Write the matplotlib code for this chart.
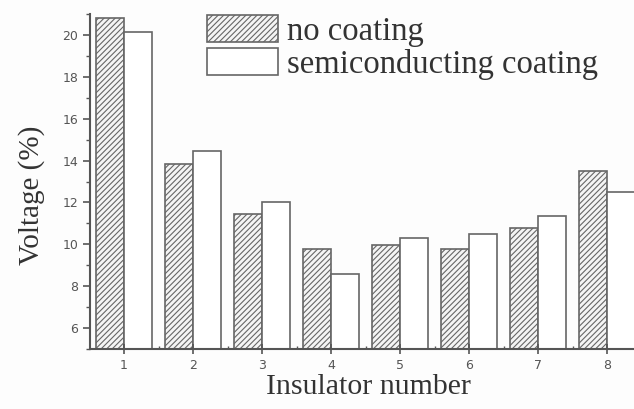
import matplotlib
matplotlib.use('Agg')
import matplotlib.pyplot as plt
import numpy as np

# data
insulators = [1, 2, 3, 4, 5, 6, 7, 8]
no_coating = [20.8, 13.85, 11.45, 9.8, 9.95, 9.8, 10.8, 13.5]
semi_coating = [20.15, 14.45, 12.0, 8.6, 10.3, 10.5, 11.35, 12.5]
y_ticks = [6, 8, 10, 12, 14, 16, 18, 20]

edge = '#666666'
plt.rcParams['hatch.color'] = '#999999'
plt.rcParams['hatch.linewidth'] = 0.8

fig = plt.figure(figsize=(6.34, 4.09), dpi=100)
fig.patch.set_facecolor('#fdfdfd')
ax = fig.add_axes([0.142, 0.1467, 0.858, 0.819])
ax.set_facecolor('#fdfdfd')

x = np.array(insulators)
w = 0.4
ax.bar(x - w / 2, no_coating, w, facecolor='#f4f4f4', edgecolor=edge,
       hatch='//////', linewidth=1.2, label='no coating')
ax.bar(x + w / 2, semi_coating, w, facecolor='white', edgecolor=edge,
       linewidth=1.2, label='semiconducting coating')

ax.set_xlim(0.507, 8.39)
ax.set_ylim(5, 21)
ax.set_xticks(insulators)
ax.set_xticks(x[:-1] + 0.5, minor=True)
ax.set_yticks(y_ticks)
ax.set_yticks(np.arange(5, 22, 2), minor=True)

for s in ['top', 'right']:
    ax.spines[s].set_visible(False)
for s in ['left', 'bottom']:
    ax.spines[s].set_color('#555555')
    ax.spines[s].set_linewidth(1.5)

ax.tick_params(axis='both', which='major', colors='#555555', labelsize=9,
               length=5, width=1.2, labelcolor='#555555')
ax.tick_params(axis='both', which='minor', colors='#555555', length=3, width=1)
ax.tick_params(axis='x', which='major', direction='inout', length=7, pad=4)
ax.tick_params(axis='x', which='minor', direction='in', length=2)

serif = ['Liberation Serif', 'DejaVu Serif']
ax.set_xlabel('Insulator number', family=serif, fontsize=21.5, color='#333333')
ax.set_ylabel('Voltage (%)', family=serif, fontsize=21, color='#333333')
ax.xaxis.set_label_coords(0.511, -0.075)
ax.yaxis.set_label_coords(-0.082, 0.46)

leg = ax.legend(loc='upper left', bbox_to_anchor=(0.215, 0.996),
                prop={'family': serif, 'size': 23.5}, frameon=False,
                handlelength=2.17, handleheight=0.89, handletextpad=0.28,
                labelspacing=0.03, borderpad=0.0, borderaxespad=0.0)
for t in leg.get_texts():
    t.set_color('#333333')

fig.savefig('out.png', dpi=100, facecolor=fig.get_facecolor())
